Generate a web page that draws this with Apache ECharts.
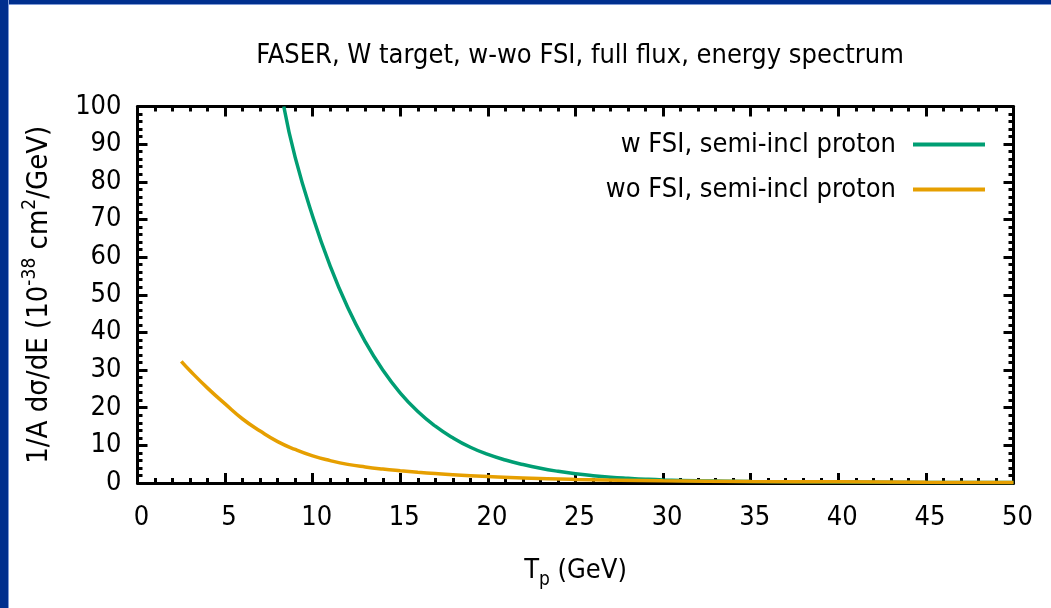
<!DOCTYPE html>
<html>
<head>
<meta charset="utf-8">
<script src="https://cdn.jsdelivr.net/npm/echarts@6/dist/echarts.min.js"></script>
<style>
  html, body { margin: 0; padding: 0; background: #fff; }
  #chart { width: 1051px; height: 608px; }
  .band-top { position: absolute; left: 0; top: 0; width: 1051px; height: 4px; background: #002f8e; border-bottom: 1px solid #7f9ad6; }
  .band-left { position: absolute; left: 0; top: 0; width: 8px; height: 608px; background: #002f8e; border-right: 1.5px solid #7f9ad6; }
</style>
</head>
<body>
<div id="chart"></div>
<div class="band-top"></div>
<div class="band-left"></div>
<script>
// T_p (GeV) vs 1/A dsigma/dE
var wFsiX = [8.35, 9, 10, 11, 12, 13, 14, 15, 16, 17, 18, 19, 20, 21, 22, 23, 24, 25, 26, 27, 28, 29, 30, 32, 35, 40, 45, 50];
var wFsiY = [100, 86.5, 70.8, 57.6, 46.6, 37.5, 30.0, 23.9, 19.0, 15.1, 12.0, 9.5, 7.6, 6.1, 4.9, 3.9, 3.1, 2.45, 1.95, 1.55, 1.25, 1.0, 0.82, 0.6, 0.4, 0.25, 0.15, 0.1];
var woFsiX = [2.5, 3, 4, 5, 6, 7, 8, 9, 10, 11, 12, 13, 14, 15, 16, 17, 18, 20, 22, 25, 30, 35, 40, 45, 50];
var woFsiY = [32.3, 29.8, 25.2, 21.0, 17.0, 13.8, 11.0, 8.9, 7.2, 5.95, 4.95, 4.25, 3.7, 3.25, 2.85, 2.5, 2.2, 1.7, 1.3, 0.95, 0.6, 0.4, 0.3, 0.2, 0.15];
var seriesNames = ['w FSI, semi-incl proton', 'wo FSI, semi-incl proton'];

var font = '"DejaVu Sans Condensed", "Liberation Sans Narrow", "DejaVu Sans", sans-serif';

function pairs(xs, ys) {
    return xs.map(function (x, i) { return [x, ys[i]]; });
}

var tickStyle = {
    axisLine: { show: true, onZero: false, lineStyle: { color: '#000', width: 3 } },
    axisTick: { show: true, inside: true, length: 10, lineStyle: { color: '#000', width: 3 } },
    minorTick: { show: true, splitNumber: 5, length: 5, lineStyle: { color: '#000', width: 3 } },
    splitLine: { show: false },
    minorSplitLine: { show: false }
};

function axis(extra) {
    return Object.assign({}, tickStyle, extra);
}

var option = {
    animation: false,
    title: {
        text: 'FASER, W target, w-wo FSI, full flux, energy spectrum',
        left: 575, top: 37, textAlign: 'center',
        textStyle: { fontFamily: font, fontSize: 27, fontWeight: 'normal', color: '#000' }
    },
    legend: {
        data: seriesNames,
        orient: 'vertical',
        align: 'right',
        right: 61, top: 126,
        itemWidth: 72, itemHeight: 4, itemGap: 18,
        icon: 'rect',
        textStyle: { fontFamily: font, fontSize: 27, color: '#000', padding: [0, 12, 0, 0] }
    },
    grid: { left: 137.5, right: 37.5, top: 106.5, bottom: 125 },
    xAxis: [
        axis({
            type: 'value', min: 0, max: 50, interval: 5, position: 'bottom',
            axisLabel: { fontFamily: font, fontSize: 27, color: '#000', margin: 21, padding: [0, 0, 0, 8] },
            name: '{m|T}{sub|p}{m| (GeV)}',
            nameLocation: 'middle', nameGap: 74,
            nameTextStyle: {
                fontFamily: font, fontSize: 27, color: '#000',
                rich: {
                    m: { fontFamily: font, fontSize: 27, color: '#000' },
                    sub: { fontFamily: font, fontSize: 19, color: '#000', verticalAlign: 'bottom', padding: [0, 0, -6, 0] }
                }
            }
        }),
        axis({
            type: 'value', min: 0, max: 50, interval: 5, position: 'top',
            axisLabel: { show: false }
        })
    ],
    yAxis: [
        axis({
            type: 'value', min: 0, max: 100, interval: 10, position: 'left',
            axisLabel: { fontFamily: font, fontSize: 27, color: '#000', margin: 16 },
            name: '{m|1/A dσ/dE (10}{sup|-38}{m| cm}{sup|2}{m|/GeV)}',
            nameLocation: 'middle', nameGap: 84, nameRotate: 90,
            nameTextStyle: {
                fontFamily: font, fontSize: 29, color: '#000',
                rich: {
                    m: { fontFamily: font, fontSize: 29, color: '#000' },
                    sup: { fontFamily: font, fontSize: 19, color: '#000', verticalAlign: 'top', padding: [-4, 0, 0, 0] }
                }
            }
        }),
        axis({
            type: 'value', min: 0, max: 100, interval: 10, position: 'right',
            axisLabel: { show: false }
        })
    ],
    series: [
        {
            name: seriesNames[0], type: 'line', xAxisIndex: 0, yAxisIndex: 0,
            data: pairs(wFsiX, wFsiY), smooth: 0.5, showSymbol: false, clip: true,
            lineStyle: { color: '#009e73', width: 3.5 }, itemStyle: { color: '#009e73' }
        },
        {
            name: seriesNames[1], type: 'line', xAxisIndex: 0, yAxisIndex: 0,
            data: pairs(woFsiX, woFsiY), smooth: 0.5, showSymbol: false, clip: true,
            lineStyle: { color: '#e69f00', width: 3.5 }, itemStyle: { color: '#e69f00' }
        }
    ]
};

var chart = echarts.init(document.getElementById('chart'), null, { renderer: 'canvas' });
chart.setOption(option);
window.onresize = function () { chart.resize(); };
</script>
</body>
</html>
